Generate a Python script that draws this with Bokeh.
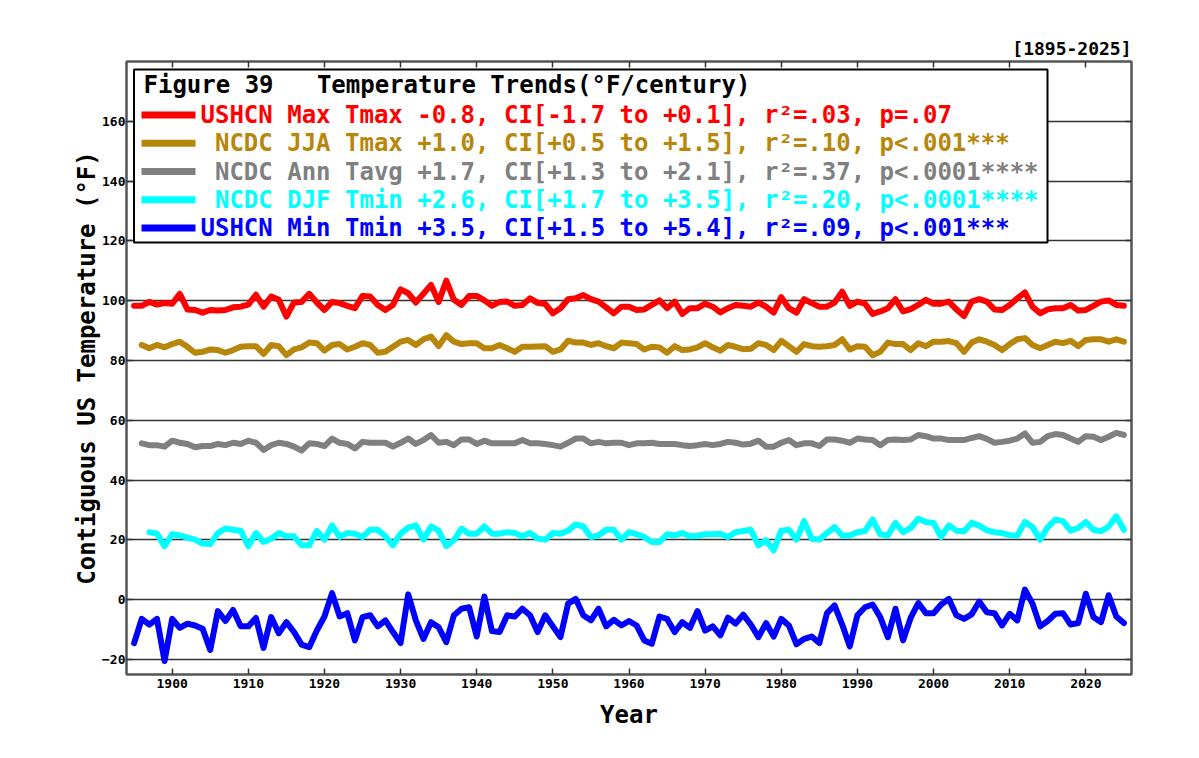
from bokeh.plotting import figure
from bokeh.models import LinearAxis, FixedTicker, Range1d, Label, BoxAnnotation, CustomLabelingPolicy
from bokeh.embed import file_html
from bokeh.resources import INLINE

# ---------------- data ----------------
ushcn_max_tmax_start = 1895
ushcn_max_tmax = [
    98.3, 98.3, 99.6, 98.7, 99.2, 99.0, 102.3, 97.1, 96.9, 96.0, 96.9, 96.7, 96.9, 97.8, 98.0, 98.7,
    102.0, 98.0, 101.4, 100.3, 94.7, 99.4, 99.6, 102.3, 99.4, 96.9,
    99.6, 99.2, 98.3, 97.5, 101.6, 101.4, 98.6, 96.9, 98.6, 103.8, 102.5, 99.4, 102.3, 105.3, 99.6,
    106.7, 100.3, 98.6, 101.6, 101.6, 100.1, 98.3, 99.6, 99.7, 98.3, 98.6, 100.8,
    99.3, 98.9, 95.8, 97.5, 100.5, 100.8, 101.9, 100.5, 99.7, 97.8, 95.8, 98.0, 98.0, 96.9, 97.1,
    98.6, 100.1, 97.5, 99.7, 95.6, 97.5, 97.5, 99.0, 98.0, 96.1, 97.5, 98.6,
    98.3, 98.0, 99.4, 98.0, 96.0, 101.2, 97.5, 96.0, 100.5, 99.2, 98.0, 98.0, 99.4, 103.0, 98.3,
    99.7, 99.0, 95.6, 96.4, 97.5, 100.5, 96.4, 97.2, 98.6, 100.3, 99.0, 99.0,
    99.7, 97.1, 94.9, 99.7, 100.5, 99.7, 97.1, 96.9, 98.6, 100.8, 102.8, 98.0, 95.8, 97.1, 97.5,
    97.5, 98.6, 96.7, 96.9, 98.3, 99.7, 100.1, 98.6, 98.3,
]

ncdc_jja_tmax_start = 1896
ncdc_jja_tmax = [
    85.2, 84.1, 85.2, 84.4, 85.5, 86.3, 84.6, 82.6, 82.9, 83.7, 83.5, 82.6, 83.5, 84.6, 84.8, 84.8,
    82.2, 85.2, 84.8, 81.8, 83.7, 84.4, 86.0, 85.8, 83.3,
    85.2, 85.5, 83.7, 84.6, 85.8, 85.2, 82.6, 82.9, 84.6, 86.3, 86.9, 85.2, 87.1, 88.0, 84.8, 88.5,
    86.3, 85.5, 85.8, 85.8, 84.1, 84.1, 85.2, 84.1, 82.9, 84.6, 84.6,
    84.7, 84.8, 82.9, 83.7, 86.6, 86.0, 86.0, 85.2, 85.8, 84.8, 84.1, 86.0, 85.8, 85.5, 83.7, 84.6,
    84.4, 82.6, 84.8, 83.5, 83.7, 84.4, 85.8, 84.4, 83.3, 85.2, 84.6,
    83.8, 83.9, 85.8, 85.2, 83.5, 86.6, 84.8, 82.9, 85.5, 84.8, 84.6, 84.8, 85.2, 87.1, 83.7, 84.8,
    84.6, 81.8, 82.9, 86.0, 85.5, 85.5, 83.5, 85.8, 84.8, 86.3, 86.3,
    86.5, 85.8, 82.9, 86.0, 87.1, 86.3, 85.2, 83.5, 85.5, 87.1, 87.5, 85.2, 84.1, 85.2, 86.3, 85.8,
    86.6, 84.8, 86.9, 87.1, 87.1, 86.3, 87.1, 86.3,
]

ncdc_ann_tavg_start = 1896
ncdc_ann_tavg = [
    52.3, 51.7, 51.7, 51.2, 53.2, 52.5, 52.1, 51.0, 51.4, 51.4, 52.1, 51.7, 52.5, 52.1, 53.2, 52.5,
    50.1, 51.7, 52.5, 52.1, 51.2, 49.9, 52.3, 52.1, 51.4,
    53.9, 52.5, 52.1, 50.6, 52.8, 52.5, 52.5, 52.5, 51.2, 52.5, 53.9, 52.1, 53.4, 55.1, 52.5, 52.8,
    51.7, 53.6, 53.6, 52.1, 53.2, 52.3, 52.3, 52.3, 52.3, 53.4, 52.3,
    52.3, 52.1, 51.7, 51.2, 52.5, 53.9, 53.9, 52.3, 52.8, 52.3, 52.5, 52.5, 51.7, 52.3, 52.3, 52.5,
    52.1, 52.1, 52.1, 51.7, 51.4, 51.7, 52.1, 51.7, 52.1, 52.8, 52.5,
    51.9, 52.2, 53.2, 51.2, 51.2, 52.5, 53.4, 51.7, 52.3, 52.3, 51.4, 53.6, 53.6, 53.2, 52.5, 53.9,
    53.6, 53.4, 51.7, 53.4, 53.6, 53.4, 53.6, 55.1, 54.7, 53.9, 53.9,
    53.4, 53.4, 53.4, 54.1, 54.7, 53.8, 52.5, 52.8, 53.2, 53.9, 55.6, 52.5, 52.8, 54.7, 55.4, 55.1,
    53.9, 52.8, 54.7, 54.5, 53.4, 54.5, 55.8, 55.1,
]

ncdc_djf_tmin_start = 1897
ncdc_djf_tmin = [
    22.6, 22.1, 17.9, 21.9, 21.5, 20.8, 20.1, 18.8, 18.6, 22.3, 23.8, 23.4, 23.1, 17.9, 22.3, 19.3,
    20.4, 22.3, 21.2, 21.2, 18.2, 18.2, 23.0, 20.1,
    24.9, 21.0, 22.3, 22.1, 21.0, 23.4, 23.4, 21.2, 18.2, 22.1, 24.1, 24.9, 20.1, 24.5, 23.1, 17.9,
    19.9, 23.8, 22.1, 22.1, 24.5, 22.1, 22.1, 22.6, 22.3, 21.2, 22.3,
    20.5, 20.1, 22.3, 22.1, 23.1, 25.2, 24.5, 21.0, 21.5, 23.4, 23.4, 20.1, 22.6, 21.9, 21.0, 19.3,
    19.3, 21.9, 21.5, 22.3, 21.2, 21.4, 21.9, 21.9, 22.1, 21.0, 22.6,
    23.0, 23.4, 18.2, 19.9, 16.5, 23.1, 23.4, 20.1, 26.3, 20.4, 20.1, 22.3, 24.3, 21.5, 21.5, 22.6,
    23.0, 26.8, 21.9, 21.5, 25.7, 22.6, 24.0, 27.1, 26.0, 25.7, 21.0,
    24.9, 23.1, 22.9, 25.7, 24.8, 23.2, 22.6, 22.3, 21.6, 21.5, 26.0, 24.3, 20.1, 24.3, 26.8, 26.3,
    23.1, 24.0, 26.0, 23.4, 22.9, 24.5, 27.9, 23.4,
]

ushcn_min_tmin_start = 1895
ushcn_min_tmin = [
    -14.5, -6.4, -8.3, -6.4, -20.5, -6.4, -9.4, -8.0, -8.6, -9.7, -16.8, -3.8, -7.1, -3.4, -8.9, -8.9,
    -6.1, -16.1, -5.8, -11.2, -7.5, -10.8, -15.0, -15.9, -10.3, -5.6,
    2.2, -5.6, -4.5, -13.6, -5.8, -5.2, -8.9, -6.9, -10.8, -14.5, 1.8, -6.9, -13.1, -7.5, -9.2, -14.2,
    -5.2, -3.0, -2.5, -12.3, 1.1, -10.5, -10.8, -5.2, -5.6, -3.0, -5.2,
    -10.8, -5.2, -8.9, -12.5, -1.3, 0.3, -5.2, -6.9, -3.0, -8.9, -6.7, -8.6, -7.1, -8.6, -13.6, -14.7,
    -5.6, -6.4, -10.8, -7.5, -9.4, -3.8, -10.3, -8.9, -11.9, -6.0, -8.0,
    -5.0, -8.3, -12.5, -7.8, -12.3, -6.4, -8.6, -14.9, -13.1, -12.3, -14.5, -4.5, -1.9, -8.3, -15.6,
    -5.2, -2.5, -1.6, -5.8, -12.5, -3.0, -13.6, -6.0, -1.1, -4.5, -4.5, -1.6,
    0.3, -5.2, -6.4, -4.9, -0.6, -4.2, -4.5, -8.6, -4.7, -6.9, 3.4, -1.3, -8.9, -7.1, -4.7, -4.5,
    -8.3, -7.8, 2.0, -5.8, -7.5, 1.5, -5.6, -7.8,
]

series_labels = [
    "USHCN Max Tmax -0.8, CI[-1.7 to +0.1], r\u00b2=.03, p=.07",
    "NCDC JJA Tmax +1.0, CI[+0.5 to +1.5], r\u00b2=.10, p<.001***",
    "NCDC Ann Tavg +1.7, CI[+1.3 to +2.1], r\u00b2=.37, p<.0001****",
    "NCDC DJF Tmin +2.6, CI[+1.7 to +3.5], r\u00b2=.20, p<.0001****",
    "USHCN Min Tmin +3.5, CI[+1.5 to +5.4], r\u00b2=.09, p<.001***",
]
label_indent = [0, 1, 1, 1, 0]  # leading blank characters in the legend text
series_colors = ["#ff0000", "#b8860b", "#808080", "#00ffff", "#0000ff"]
legend_title = "Figure 39\u00a0\u00a0\u00a0Temperature Trends(\u00b0F/century)"
period_text = "[1895-2025]"
x_ticks = list(range(1900, 2021, 10))
y_ticks = list(range(-20, 161, 20))

FONT = "DejaVu Sans Mono"
AX = "#555555"

BL, BR, BT, BB = 126, 60, 61, 76
FW, FH = 1005, 613
W, H = BL + FW + BR, BT + FH + BB

p = figure(width=W, height=H, output_backend="svg", toolbar_location=None,
           x_range=Range1d(1894, 2026), y_range=Range1d(-25, 180),
           min_border_left=BL, min_border_right=BR, min_border_top=BT, min_border_bottom=BB,
           background_fill_color="white", border_fill_color="white")
p.outline_line_color = AX
p.outline_line_width = 2
p.xgrid.visible = False
p.ygrid.grid_line_color = "#333333"
p.ygrid.grid_line_width = 1.5

xt = FixedTicker(ticks=x_ticks, minor_ticks=[])
yt = FixedTicker(ticks=y_ticks, minor_ticks=[])

no_labels = CustomLabelingPolicy(code="""
try { for (let i = 0; i < indices.size; i++) { indices.unset(i) } } catch (e) {}
return indices
""")


def style_axis(ax, show_labels=True):
    ax.axis_line_color = AX
    ax.axis_line_width = 2
    ax.major_tick_in = 6
    ax.major_tick_out = 0
    ax.major_tick_line_color = "#333333"
    ax.major_tick_line_width = 1.5
    ax.minor_tick_in = 0
    ax.minor_tick_out = 0
    ax.major_label_text_font = FONT
    ax.major_label_text_font_style = "bold"
    ax.major_label_text_color = "black"
    ax.major_label_text_font_size = "13px" if show_labels else "0px"
    if not show_labels:
        ax.major_label_policy = no_labels
    ax.axis_label_text_font = FONT
    ax.axis_label_text_font_style = "bold"
    ax.axis_label_text_font_size = "24px"
    ax.axis_label_text_color = "black"


p.xaxis.ticker = xt
p.yaxis.ticker = yt
p.ygrid.ticker = yt
style_axis(p.xaxis[0])
style_axis(p.yaxis[0])
p.xaxis.major_label_standoff = 4
p.yaxis.major_label_standoff = 1
p.xaxis.axis_label = "Year"
p.xaxis.axis_label_standoff = 10
p.yaxis.axis_label = "Contiguous US Temperature (\u00b0F)"
p.yaxis.axis_label_standoff = -2

top_ax = LinearAxis(ticker=xt)
style_axis(top_ax, False)
top_ax.major_label_standoff = 0
p.add_layout(top_ax, "above")
right_ax = LinearAxis(ticker=yt)
style_axis(right_ax, False)
right_ax.major_label_standoff = 0
p.add_layout(right_ax, "right")

p.title.text = period_text
p.title.align = "right"
p.title.text_font = FONT
p.title.text_font_style = "bold"
p.title.text_font_size = "18px"
p.title.text_color = "black"
p.title.standoff = 5

# ---------------- lines ----------------
all_series = [
    (ushcn_max_tmax_start, ushcn_max_tmax),
    (ncdc_jja_tmax_start, ncdc_jja_tmax),
    (ncdc_ann_tavg_start, ncdc_ann_tavg),
    (ncdc_djf_tmin_start, ncdc_djf_tmin),
    (ushcn_min_tmin_start, ushcn_min_tmin),
]
for (start, vals), color in zip(all_series, series_colors):
    yrs = list(range(start, start + len(vals)))
    p.line(yrs, vals, line_color=color, line_width=6, line_join="round", line_cap="round")

# ---------------- legend (frame screen units) ----------------
box = BoxAnnotation(left=7.5, right=921, bottom=432, top=605,
                    left_units="screen", right_units="screen", bottom_units="screen", top_units="screen",
                    fill_color="white", fill_alpha=1.0, line_color="black", line_width=2, line_alpha=1.0)
p.add_layout(box)

p.add_layout(Label(x=17, y=590, x_units="screen", y_units="screen", text=legend_title,
                   text_font=FONT, text_font_style="bold", text_font_size="24px",
                   text_color="black", text_baseline="middle", text_align="left"))

ROW0, ROWSTEP, CHARW = 559.5, 28.25, 14.45
for i, (lab, color, ind) in enumerate(zip(series_labels, series_colors, label_indent)):
    yc = ROW0 - i * ROWSTEP
    p.add_layout(BoxAnnotation(left=15, right=69, bottom=yc - 3.5, top=yc + 3.5,
                               left_units="screen", right_units="screen",
                               bottom_units="screen", top_units="screen",
                               fill_color=color, fill_alpha=1.0, line_color=None))
    p.add_layout(Label(x=74 + ind * CHARW, y=yc, x_units="screen", y_units="screen", text=lab,
                       text_font=FONT, text_font_style="bold", text_font_size="24px",
                       text_color=color, text_baseline="middle", text_align="left"))

open("out.html", "w").write(file_html(p, INLINE))
